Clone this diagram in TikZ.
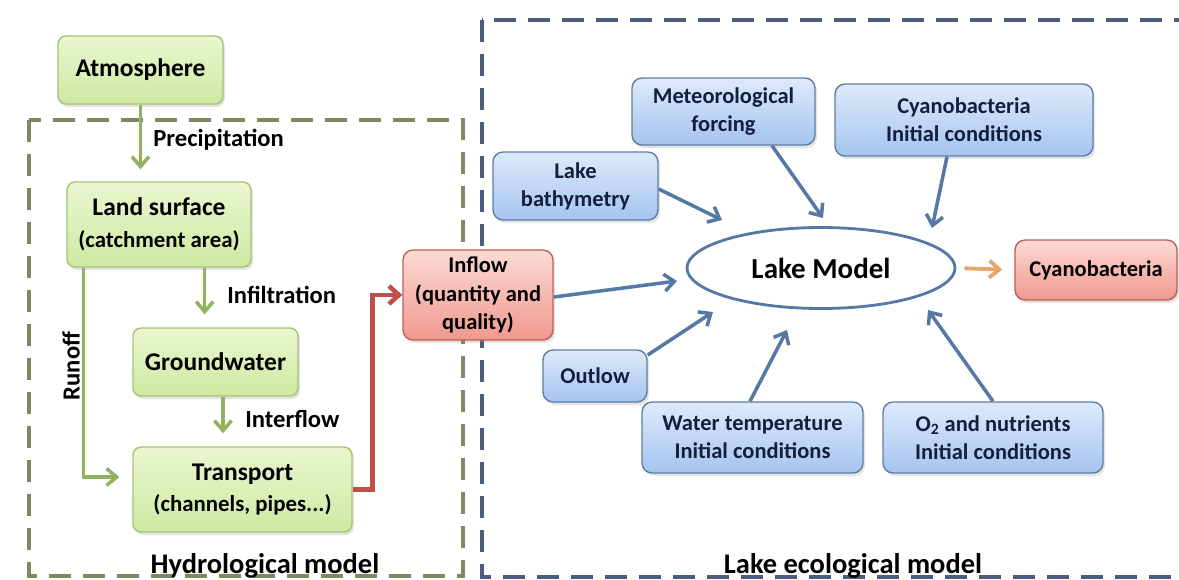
\documentclass[tikz,border=0pt]{standalone}
\usepackage{fontspec}
\setmainfont{Carlito}
\usetikzlibrary{shapes.geometric, positioning, arrows.meta, calc, shadows}
\definecolor{greentop}{RGB}{234,246,208}
\definecolor{greenbot}{RGB}{206,233,162}
\definecolor{greenline}{RGB}{165,195,115}
\definecolor{bluetop}{RGB}{222,234,250}
\definecolor{bluebot}{RGB}{164,196,240}
\definecolor{blueline}{RGB}{95,125,165}
\definecolor{pinktop}{RGB}{252,218,212}
\definecolor{pinkbot}{RGB}{240,152,142}
\definecolor{pinkline}{RGB}{190,95,90}
\definecolor{garrowc}{RGB}{145,178,95}
\definecolor{barrowc}{RGB}{85,120,165}
\definecolor{rarrowc}{RGB}{190,80,75}
\definecolor{oarrowc}{RGB}{232,165,105}
\definecolor{hydrodash}{RGB}{130,134,100}
\definecolor{lakedash}{RGB}{75,92,125}
\definecolor{navytext}{RGB}{20,30,62}
\tikzset{
  greenbox/.style={rectangle, rounded corners=0.16cm, draw=greenline, line width=0.8pt, top color=greentop, bottom color=greenbot, align=center, font=\fontsize{14.5}{18}\selectfont\bfseries, drop shadow={opacity=0.22, shadow xshift=0.04cm, shadow yshift=-0.06cm}},
  bluebox/.style={rectangle, rounded corners=0.2cm, draw=blueline, line width=0.8pt, top color=bluetop, bottom color=bluebot, align=center, text=navytext, font=\fontsize{12.8}{16}\selectfont\bfseries, drop shadow={opacity=0.22, shadow xshift=0.04cm, shadow yshift=-0.06cm}},
  pinkbox/.style={rectangle, rounded corners=0.2cm, draw=pinkline, line width=0.8pt, top color=pinktop, bottom color=pinkbot, align=center, font=\fontsize{12.8}{16.4}\selectfont\bfseries, drop shadow={opacity=0.22, shadow xshift=0.04cm, shadow yshift=-0.06cm}},
  flowlabel/.style={font=\fontsize{14}{16}\selectfont\bfseries, inner sep=0pt},
  modellabel/.style={font=\fontsize{16.2}{18}\selectfont\bfseries, inner sep=0pt},
  garrow/.style={draw=garrowc, line width=2pt, -{Straight Barb[length=2mm,width=3.4mm]}},
  barrow/.style={draw=barrowc, line width=2pt, -{Straight Barb[length=2mm,width=3.4mm]}},
  rarrow/.style={draw=rarrowc, line width=2.6pt, -{Straight Barb[length=2mm,width=3.6mm]}},
  oarrow/.style={draw=oarrowc, line width=2.2pt, -{Straight Barb[length=2mm,width=3.4mm]}},
  modeldash/.style={line width=1.8pt, dash pattern=on 0.44cm off 0.24cm}
}

\begin{document}
\begin{tikzpicture}[x=0.02cm, y=-0.02cm]

  \path[use as bounding box] (0,0) rectangle (1179,579);
  \clip (0,0) rectangle (1179,579);
  \fill[white] (0,0) rectangle (1179,579);

  % 1. Model frames (dashed)
  \draw[modeldash, hydrodash] (29,120) rectangle (463,576);
  \draw[modeldash, lakedash] (482,20) rectangle (1200,577);
  \node[modellabel, anchor=base] (hydrolbl) at (265,573) {Hydrological model};
  \node[modellabel, anchor=base] (lakelbl) at (853,573) {Lake ecological model};

  % 2. Hydrological model
  \node[greenbox, minimum width=3.3cm, minimum height=1.36cm] (atm) at (140.5,70) {Atmosphere};
  \node[greenbox, minimum width=3.68cm, minimum height=1.7cm] (land) at (159,224.5)
    {Land surface\\{\fontsize{13}{16}\selectfont (catchment area)}};
  \node[greenbox, minimum width=3.3cm, minimum height=1.36cm] (ground) at (215.5,362) {Groundwater};
  \node[greenbox, minimum width=4.38cm, minimum height=1.7cm] (trans) at (242.5,489.5)
    {Transport\\{\fontsize{13}{16}\selectfont (channels, pipes...)}};

  \draw[garrow, shorten >=0.24cm] (atm.south) -- (atm.south |- land.north);
  \draw[garrow, shorten >=0.26cm] ([xshift=0.34cm]land.south west) |- ([yshift=0.25cm]trans.west);
  \draw[garrow, shorten >=0.26cm] ([xshift=-0.94cm]land.south east) -- ([xshift=-0.94cm]land.south east |- ground.north);
  \draw[garrow, shorten >=0.26cm] ([xshift=0.15cm]ground.south) -- ([xshift=0.15cm]ground.south |- trans.north);

  \node[flowlabel, anchor=west] (precip) at (153,140) {Precipitation};
  \node[flowlabel, anchor=west] (infil) at (227,295) {Infiltration};
  \node[flowlabel, anchor=west] (inter) at (245,419) {Interflow};
  \node[flowlabel, rotate=90] (runoff) at (71,366) {Runoff};

  % 3. Inflow between both models
  \node[pinkbox, minimum width=3.0cm, minimum height=1.8cm] (inflow) at (478,295)
    {Inflow\\(quantity and\\quality)};
  \draw[rarrow] (trans.east) -- ++(20,0) |- (inflow.west);

  % 4. Lake ecological model
  \node[ellipse, draw=barrowc, line width=1.6pt, fill=white, minimum width=5.36cm, minimum height=1.62cm,
        font=\fontsize{16.5}{18}\selectfont\bfseries] (lake) at (821,268) {Lake Model};
  \node[pinkbox, minimum width=3.24cm, minimum height=1.2cm] (cyanout) at (1096,270) {Cyanobacteria};

  \node[bluebox, minimum width=3.3cm, minimum height=1.36cm] (bathy) at (575.5,186) {Lake\\bathymetry};
  \node[bluebox, minimum width=3.66cm, minimum height=1.34cm] (meteo) at (723.5,111.5) {Meteorological\\forcing};
  \node[bluebox, minimum width=5.16cm, minimum height=1.44cm] (cyanoic) at (964,120) {Cyanobacteria\\Initial conditions};
  \node[bluebox, minimum width=2.08cm, minimum height=1.04cm] (outlow) at (595,376) {Outlow};
  \node[bluebox, minimum width=4.42cm, minimum height=1.42cm] (watert) at (752.5,437.5) {Water temperature\\Initial conditions};
  \node[bluebox, minimum width=4.4cm, minimum height=1.42cm] (oxy) at (993,437.5) {O\textsubscript{2} and nutrients\\Initial conditions};

  % Free ends of the input arrows
  \coordinate (inbathy) at (722,220);
  \coordinate (inmeteo) at (823,218);
  \coordinate (incyano) at (932,228);
  \coordinate (ininflow) at (677,281);
  \coordinate (inoutlow) at (713,312);
  \coordinate (inwater) at (787,330);
  \coordinate (inoxy) at (928,310);

  \draw[barrow] ([yshift=-0.06cm]bathy.east) -- (inbathy);
  \draw[barrow] ([xshift=0.97cm]meteo.south) -- (inmeteo);
  \draw[barrow] ([xshift=-0.34cm]cyanoic.south) -- (incyano);
  \draw[barrow] ([yshift=-0.04cm]inflow.east) -- (ininflow);
  \draw[barrow] ([yshift=0.42cm]outlow.east) -- (inoutlow);
  \draw[barrow] ([xshift=-0.05cm]watert.north) -- (inwater);
  \draw[barrow] (oxy.north) -- (inoxy);

  \draw[oarrow, shorten <=0.16cm, shorten >=0.24cm] (lake.east) -- (cyanout.west);

\end{tikzpicture}
\end{document}
